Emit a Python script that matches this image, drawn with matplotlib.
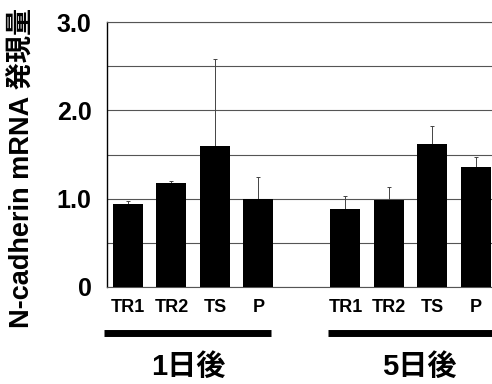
import matplotlib.pyplot as plt
import numpy as np

plt.rcParams['font.family'] = ['Liberation Sans', 'Noto Sans CJK JP']
plt.rcParams['font.weight'] = 'bold'

# N-cadherin mRNA expression, 1 day and 5 days after
conditions = ['TR1', 'TR2', 'TS', 'P']
groups = ['1日後', '5日後']
day1_mean = [0.94, 1.18, 1.60, 1.00]
day1_err = [0.03, 0.02, 0.98, 0.25]
day5_mean = [0.88, 0.99, 1.62, 1.36]
day5_err = [0.15, 0.14, 0.20, 0.11]

x1 = np.arange(4)
x5 = np.arange(4) + 5
x = np.concatenate([x1, x5])
means = day1_mean + day5_mean
errs = day1_err + day5_err

fig = plt.figure(figsize=(4.92, 3.84), dpi=100)
ax = fig.add_axes([107 / 492, 1 - 287 / 384, 385 / 492, 265 / 384])

ax.bar(x, means, width=0.69, color='black', zorder=3)
ax.errorbar(x, means, yerr=[np.zeros(len(errs)), errs], fmt='none',
            ecolor='#444444', elinewidth=0.7, capsize=1.2, capthick=0.7, zorder=2)

ax.set_xlim(-0.48, 8.37)
ax.set_ylim(0, 3.0)
ax.set_yticks([0, 1, 2, 3])
ax.set_yticklabels(['0', '1.0', '2.0', '3.0'], fontsize=18, fontweight='bold')
ax.set_yticks(np.arange(0, 3.01, 0.5), minor=True)
ax.yaxis.grid(True, which='both', color='#555555', linewidth=0.8)
ax.set_axisbelow(True)
ax.tick_params(axis='y', which='both', length=0, pad=11)

ax.set_xticks(x)
ax.set_xticklabels(conditions * 2, fontsize=13, fontweight='bold')
ax.tick_params(axis='x', length=0, pad=9)

ax.spines['right'].set_visible(False)
ax.spines['top'].set_color('#555555')
ax.spines['top'].set_linewidth(0.8)
ax.spines['bottom'].set_color('#555555')
ax.spines['bottom'].set_linewidth(0.8)
ax.spines['left'].set_color('black')
ax.spines['left'].set_linewidth(1.0)

# group bars and labels below the axis
trans = ax.get_xaxis_transform()
ax.plot([-0.55, 3.28], [-0.174, -0.174], color='black', linewidth=5,
        solid_capstyle='butt', transform=trans, clip_on=False)
ax.plot([4.6, 8.6], [-0.174, -0.174], color='black', linewidth=5,
        solid_capstyle='butt', transform=trans, clip_on=False)
ax.text(1.4, -0.30, groups[0], transform=trans, ha='center', va='center',
        fontsize=21, fontweight='bold')
ax.text(6.7, -0.30, groups[1], transform=trans, ha='center', va='center',
        fontsize=21, fontweight='bold')

fig.text(0.045, 1 - 168 / 384, 'N-cadherin mRNA 発現量', rotation=90,
         ha='center', va='center', fontsize=19.5, fontweight='bold')

fig.savefig('out.png', dpi=100)
